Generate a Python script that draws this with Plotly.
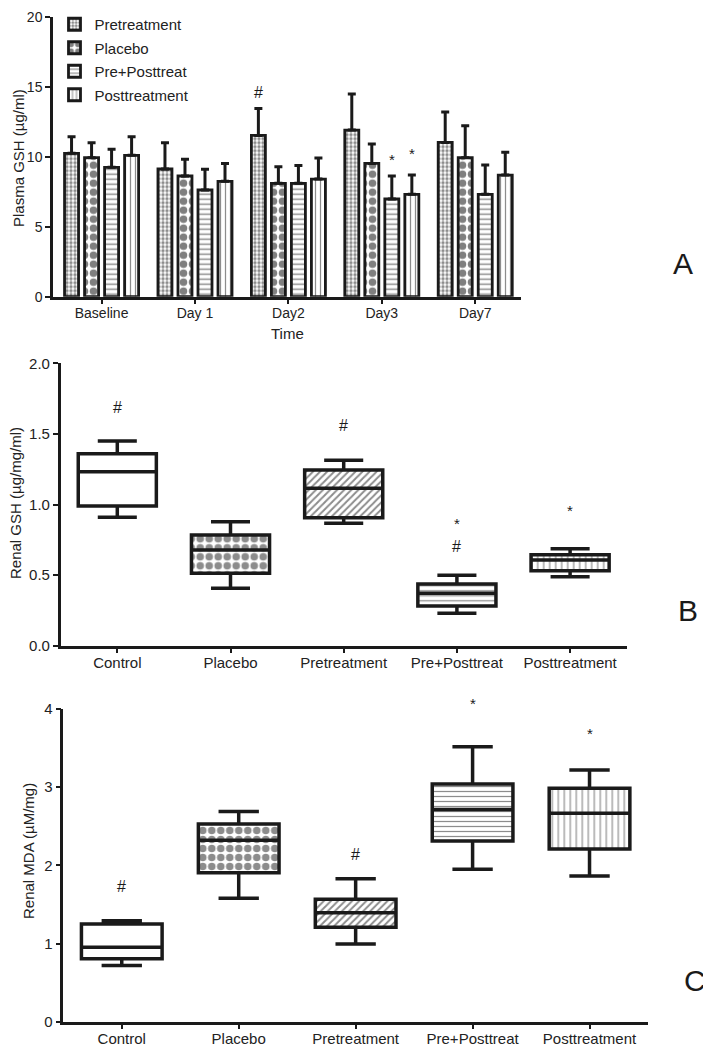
import plotly.graph_objects as go

# ---------------- Panel A data ----------------
days = ["Baseline", "Day 1", "Day2", "Day3", "Day7"]
series_names = ["Pretreatment", "Placebo", "Pre+Posttreat", "Posttreatment"]
pre_mean = [10.24, 9.12, 11.52, 11.9, 11.02]
pre_sd = [1.19, 1.88, 1.93, 2.58, 2.17]
placebo_mean = [9.93, 8.62, 8.1, 9.52, 9.93]
placebo_sd = [1.07, 1.19, 1.19, 1.38, 2.28]
prepost_mean = [9.24, 7.62, 8.1, 6.98, 7.31]
prepost_sd = [1.29, 1.48, 1.28, 1.64, 2.09]
post_mean = [10.1, 8.24, 8.4, 7.31, 8.69]
post_sd = [1.33, 1.28, 1.5, 1.38, 1.62]

# annotations A: (category, series index, y, text)
ann_a = [("Day2", 0, 14.6, "#"), ("Day3", 2, 9.8, "*"), ("Day3", 3, 10.2, "*")]

# ---------------- Panel B / C data ----------------
groups = ["Control", "Placebo", "Pretreatment", "Pre+Posttreat", "Posttreatment"]
gsh_low = [0.91, 0.406, 0.867, 0.229, 0.489]
gsh_q1 = [0.99, 0.513, 0.907, 0.281, 0.531]
gsh_med = [1.232, 0.678, 1.115, 0.371, 0.607]
gsh_q3 = [1.36, 0.784, 1.244, 0.437, 0.645]
gsh_high = [1.45, 0.878, 1.313, 0.499, 0.687]

mda_low = [0.72, 1.578, 0.994, 1.95, 1.863]
mda_q1 = [0.806, 1.905, 1.207, 2.31, 2.21]
mda_med = [0.951, 2.32, 1.394, 2.716, 2.665]
mda_q3 = [1.25, 2.53, 1.565, 3.04, 2.985]
mda_high = [1.29, 2.69, 1.83, 3.517, 3.22]

ann_b = [("Control", 1.763, "#"), ("Pretreatment", 1.634, "#"),
         ("Pre+Posttreat", 0.867, "*"), ("Pre+Posttreat", 0.63, "#"),
         ("Posttreatment", 0.956, "*")]
ann_c = [("Control", 1.735, "#"), ("Pretreatment", 2.14, "#"),
         ("Pre+Posttreat", 4.2, "*"), ("Posttreatment", 3.815, "*")]

FONT = "Liberation Sans, Arial, sans-serif"
INK = "#1a1a1a"
TXT = "#222"

bar_patterns = [
    dict(shape=".", size=4, solidity=0.55, fgcolor=INK, bgcolor="white"),
    dict(shape=".", size=9, solidity=0.55, fgcolor="black", bgcolor="white"),
    dict(shape="-", size=5, solidity=0.3, fgcolor=INK, bgcolor="white"),
    dict(shape="|", size=5, solidity=0.25, fgcolor=INK, bgcolor="white"),
]
box_shapes = ["", ".", "/", "-", "|"]
box_sizes = [6, 9, 5, 5, 6]
box_solid = [0.2, 0.55, 0.4, 0.25, 0.2]

fig = go.Figure()

means = [pre_mean, placebo_mean, prepost_mean, post_mean]
sds = [pre_sd, placebo_sd, prepost_sd, post_sd]
for i, name in enumerate(series_names):
    fig.add_trace(go.Bar(
        x=days, y=means[i], name=name, legendgroup=name,
        marker=dict(color="white", line=dict(color=INK, width=2.8),
                    pattern=bar_patterns[i]),
        error_y=dict(type="data", array=sds[i], arrayminus=[0] * len(days),
                     symmetric=False, color=INK, thickness=3, width=4),
        xaxis="x", yaxis="y",
    ))


def add_box_panel(q1, med, q3, low, high, xa, ya):
    fig.add_trace(go.Bar(
        x=groups, y=[b - a for a, b in zip(q1, q3)], base=q1, width=0.69,
        marker=dict(color="white", line=dict(width=0),
                    pattern=dict(shape=box_shapes, size=box_sizes,
                                 solidity=box_solid, fgcolor=INK, bgcolor="white")),
        showlegend=False, xaxis=xa, yaxis=ya, hoverinfo="skip",
    ))
    fig.add_trace(go.Box(
        x=groups, q1=q1, median=med, q3=q3, lowerfence=low, upperfence=high,
        width=0.69, whiskerwidth=0.5, fillcolor="rgba(0,0,0,0)",
        line=dict(color=INK, width=3.5), showlegend=False,
        xaxis=xa, yaxis=ya,
    ))


add_box_panel(gsh_q1, gsh_med, gsh_q3, gsh_low, gsh_high, "x2", "y2")
add_box_panel(mda_q1, mda_med, mda_q3, mda_low, mda_high, "x3", "y3")

# the page body has an 8px default margin: the figure sits at (8, 8)
OFF = 8
W, H = 711 - OFF, 1050 - OFF


def px_x(a):
    return (a - OFF) / W


def px_y(a):
    return 1 - (a - OFF) / H


def dom_x(a, b):
    return [px_x(a), px_x(b)]


def dom_y(top, bottom):
    return [px_y(bottom), px_y(top)]


def axis_common(fs):
    return dict(showline=True, linecolor=INK, linewidth=2.5, ticks="outside",
                ticklen=5, tickwidth=2, tickcolor=INK, showgrid=False,
                zeroline=False, tickfont=dict(family=FONT, size=fs, color=TXT),
                fixedrange=True, automargin=False)


def xaxis_common(fs):
    d = axis_common(fs)
    d["ticklabelstandoff"] = -3
    return d


annotations = []
offs = [-0.321, -0.107, 0.107, 0.321]


def mark_font(txt):
    return dict(family=FONT, size=16 if txt == "#" else 15, color=INK)


for cat, si, yv, txt in ann_a:
    xi = days.index(cat) + offs[si]
    annotations.append(dict(x=xi, y=yv, xref="x", yref="y", text=txt,
                            showarrow=False, font=mark_font(txt)))
for cat, yv, txt in ann_b:
    annotations.append(dict(x=groups.index(cat), y=yv / 2.0, xref="x2", yref="y2 domain",
                            text=txt, showarrow=False, font=mark_font(txt)))
for cat, yv, txt in ann_c:
    annotations.append(dict(x=groups.index(cat), y=yv / 4.0, xref="x3", yref="y3 domain",
                            text=txt, showarrow=False, font=mark_font(txt)))
for lab, px, py in [("A", 683, 263), ("B", 688, 610), ("C", 695, 980)]:
    annotations.append(dict(x=px_x(px), y=px_y(py), xref="paper", yref="paper", text=lab,
                            xanchor="center", yanchor="middle", showarrow=False,
                            font=dict(family=FONT, size=30, color=INK)))
annotations.append(dict(x=px_x(287), y=px_y(333), xref="paper", yref="paper", text="Time",
                        xanchor="center", yanchor="middle", showarrow=False,
                        font=dict(family=FONT, size=15, color=TXT)))
# y axis titles
for txt, px, py in [("Plasma GSH (µg/ml)", 18, 158), ("Renal GSH (µg/mg/ml)", 15, 503),
                    ("Renal MDA (µM/mg)", 28, 851)]:
    annotations.append(dict(x=px_x(px), y=px_y(py), xref="paper", yref="paper", text=txt,
                            textangle=-90, xanchor="center", yanchor="middle",
                            showarrow=False, font=dict(family=FONT, size=15, color=TXT)))

fig.update_layout(
    width=W, height=H, margin=dict(l=0, r=0, t=0, b=0, autoexpand=False),
    paper_bgcolor="white", plot_bgcolor="white",
    barmode="group", bargap=0.143, bargroupgap=0.3,
    font=dict(family=FONT, color=TXT),
    showlegend=True,
    legend=dict(x=px_x(54.5), y=1.0, xanchor="left", yanchor="top",
                bgcolor="rgba(0,0,0,0)", tracegroupgap=1,
                font=dict(family=FONT, size=15, color=TXT)),
    xaxis=dict(xaxis_common(14), domain=dom_x(53, 521), range=[-0.52, 4.49],
               anchor="y", type="category"),
    yaxis=dict(axis_common(14), domain=dom_y(16.7, 296.7), range=[0, 20],
               tickvals=[0, 5, 10, 15, 20], anchor="x"),
    xaxis2=dict(xaxis_common(15), domain=dom_x(60.7, 626.7), range=[-0.5, 4.5],
                anchor="y2", type="category"),
    yaxis2=dict(axis_common(15), domain=dom_y(363.3, 645.7), range=[0, 2.0],
                tickvals=[0, 0.5, 1.0, 1.5, 2.0], tickformat=".1f", anchor="x2"),
    xaxis3=dict(xaxis_common(15), domain=dom_x(63.3, 648), range=[-0.5, 4.5],
                anchor="y3", type="category"),
    yaxis3=dict(axis_common(15), domain=dom_y(709, 1021.7), range=[0, 4],
                tickvals=[0, 1, 2, 3, 4], anchor="x3"),
    annotations=annotations,
)

fig.write_html("out.html")
